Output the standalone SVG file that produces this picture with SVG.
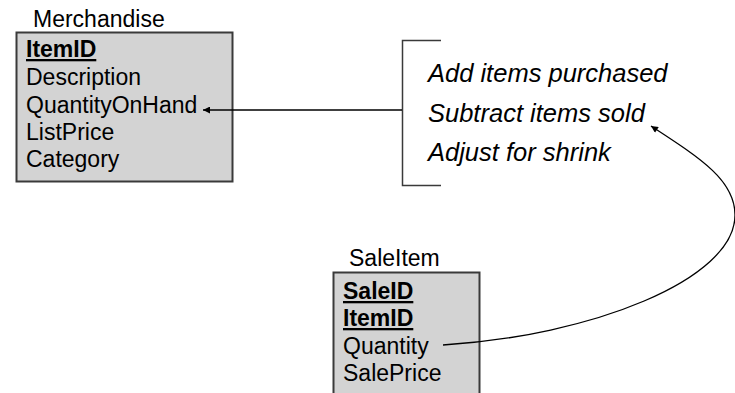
<svg xmlns="http://www.w3.org/2000/svg" width="735" height="393" viewBox="0 0 735 393">
<defs>
<style>
.t{font-family:"Liberation Sans",Arial,sans-serif;font-size:23px;fill:#000}
.b{font-weight:bold;text-decoration:underline}
.i{font-family:"Liberation Sans",Arial,sans-serif;font-size:25.5px;font-style:italic;fill:#000}
.box{fill:#d3d3d3;stroke:#3a3a3a;stroke-width:2}
.ln{fill:none;stroke:#000;stroke-width:1.3}
.br{fill:none;stroke:#3a3a3a;stroke-width:1.5}
</style>
<marker id="ah" viewBox="0 0 10 10" refX="10" refY="5" markerWidth="9" markerHeight="7" markerUnits="userSpaceOnUse" orient="auto">
<path d="M0,0 L10,5 L0,10 z" fill="#000"/>
</marker>
</defs>
<g id="merchandise">
<text class="t" x="33" y="27">Merchandise</text>
<rect class="box" x="16.5" y="32.5" width="216" height="149"/>
<text class="t b" x="26" y="57">ItemID</text>
<text class="t" x="26" y="85">Description</text>
<text class="t" x="26" y="113">QuantityOnHand</text>
<text class="t" x="26" y="140">ListPrice</text>
<text class="t" x="26" y="167">Category</text>
</g>
<g id="inventory-notes">
<path class="br" d="M441,40.5 H402.5 V185.5 H441"/>
<text class="i" x="428" y="82">Add items purchased</text>
<text class="i" x="428" y="122">Subtract items sold</text>
<text class="i" x="428" y="161">Adjust for shrink</text>
</g>
<g id="saleitem">
<text class="t" x="349" y="266">SaleItem</text>
<rect class="box" x="333.5" y="272.5" width="146" height="130"/>
<text class="t b" x="343" y="299">SaleID</text>
<text class="t b" x="343" y="326">ItemID</text>
<text class="t" x="343" y="354">Quantity</text>
<text class="t" x="343" y="381">SalePrice</text>
</g>
<g id="connectors">
<line class="ln" x1="402" y1="110" x2="203" y2="110" marker-end="url(#ah)"/>
<path class="ln" d="M443,345 C590,336 735,280 735,215 C735,180 700,158 651,126" marker-end="url(#ah)"/>
</g>
</svg>
